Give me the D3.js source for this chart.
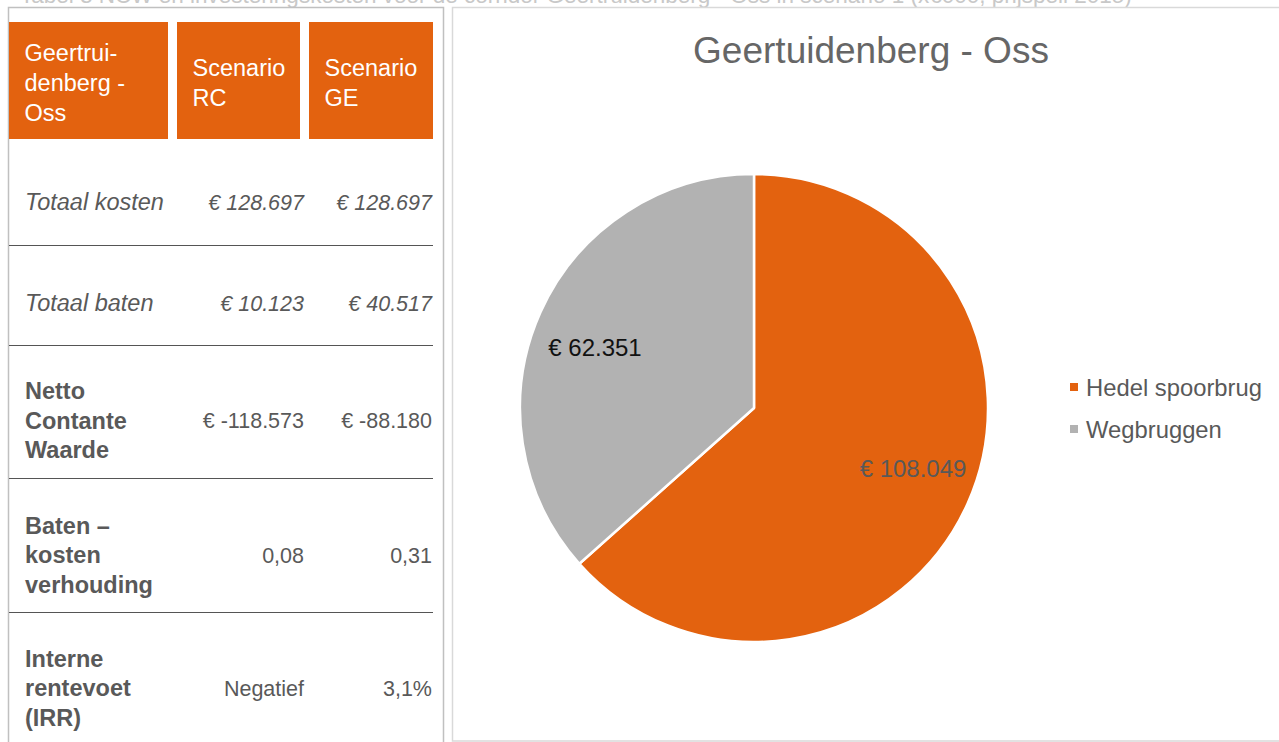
<!DOCTYPE html>
<html><head><meta charset="utf-8">
<script src="https://cdn.jsdelivr.net/npm/d3@7"></script>
<style>
html,body{margin:0;padding:0;background:#fff;}
svg{display:block;font-family:"Liberation Sans",Arial,sans-serif;}
</style></head>
<body>
<svg id="c" width="1279" height="742"></svg>
<script>
// ---- data ----
const caption = "Tabel 3 NCW en investeringskosten voor de corridor Geertruidenberg - Oss in scenario 1 (x€000, prijspeil 2015)";
const headerLabels = [["Geertrui-","denberg -","Oss"],["Scenario","RC"],["Scenario","GE"]];
const rowLabels = [["Totaal kosten"],["Totaal baten"],["Netto","Contante","Waarde"],["Baten –","kosten","verhouding"],["Interne","rentevoet","(IRR)"]];
const rowItalic = [true,true,false,false,false];
const rowKinds = ["euro","euro","euro","ratio","text"];
const scenarioRC = [128697, 10123, -118573, 0.08, "Negatief"];
const scenarioGE = [128697, 40517, -88180, 0.31, "3,1%"];
const chartTitle = "Geertuidenberg - Oss";
const sliceNames = ["Hedel spoorbrug","Wegbruggen"];
const sliceValues = [108049, 62351];
const sliceColors = ["#E3620F","#B2B2B2"];
const sliceLabelColors = ["#595959","#111111"];

// ---- formatting ----
const nl = d3.formatLocale({decimal:",", thousands:".", grouping:[3], currency:["€ ",""], minus:"-"});
const fInt = nl.format(",.0f"), fRatio = nl.format(".2f");
function fmt(v, kind){
  if (kind==="euro") return "€ " + fInt(v);
  if (kind==="ratio") return fRatio(v);
  return v;
}

const svg = d3.select("#c");
const grey = "#595959";

// caption (cut off at top, as in the reference)
svg.append("text").attr("x",20).attr("y",3).attr("font-size",22.5)
  .attr("fill","#c8c8c8").text(caption);

// ---- table panel ----
svg.append("path").attr("d","M8.5,742 V7.5 H443.5 V742").attr("fill","none").attr("stroke","#c0c0c0").attr("stroke-width",1.5);

const colX = [9,177,309], colW = [159,123,124];
const hdrY = 22, hdrH = 117;
const hdr = svg.append("g");
headerLabels.forEach((lines,i)=>{
  hdr.append("rect").attr("x",colX[i]).attr("y",hdrY).attr("width",colW[i]).attr("height",hdrH).attr("fill","#E3620F");
  const lh = 29.8, cy = hdrY + hdrH/2;
  const t = hdr.append("text").attr("font-size",23.5).attr("fill","#fff");
  lines.forEach((l,j)=>{
    t.append("tspan").attr("x",colX[i]+15.5).attr("y",cy + (j-(lines.length-1)/2)*lh + 10.5).text(l);
  });
});

const rowBounds = [139,245,345,478,612,768];
const rowShift = [10,8,9,10,-2];
const valRight = [304,432];
const body = svg.append("g");
rowLabels.forEach((lines,i)=>{
  const cy = (rowBounds[i]+rowBounds[i+1])/2 + rowShift[i];
  const lh = 29.5;
  const t = body.append("text").attr("font-size",23.5).attr("fill",grey)
    .attr("font-style",rowItalic[i]?"italic":"normal").attr("font-weight",rowItalic[i]?"normal":"bold");
  lines.forEach((l,j)=>{
    t.append("tspan").attr("x",25).attr("y",cy + (j-(lines.length-1)/2)*lh + 8).text(l);
  });
  [scenarioRC[i],scenarioGE[i]].forEach((v,k)=>{
    body.append("text").attr("x",valRight[k]).attr("y",cy+7.5).attr("text-anchor","end")
      .attr("font-size",21.5).attr("fill",grey).attr("font-style",rowItalic[i]?"italic":"normal")
      .text(fmt(v,rowKinds[i]));
  });
  if (i<rowLabels.length-1){
    body.append("line").attr("x1",9).attr("x2",433).attr("y1",rowBounds[i+1]+0.5).attr("y2",rowBounds[i+1]+0.5)
      .attr("stroke","#555").attr("stroke-width",1.2);
  }
});

// ---- chart panel ----
svg.append("rect").attr("x",452.5).attr("y",7.5).attr("width",840).attr("height",733.5)
  .attr("fill","#fff").attr("stroke","#d9d9d9").attr("stroke-width",1.5);
svg.append("text").attr("x",871).attr("y",63).attr("text-anchor","middle").attr("font-size",37)
  .attr("fill","#666666").text(chartTitle);

const cx = 754, cy = 408, r = 234;
const pie = d3.pie().sort(null).value(d=>d)(sliceValues);
const arc = d3.arc().innerRadius(0).outerRadius(r);
const g = svg.append("g").attr("transform",`translate(${cx},${cy})`);
g.selectAll("path").data(pie).join("path").attr("d",arc)
  .attr("fill",(d,i)=>sliceColors[i]).attr("stroke","#fff").attr("stroke-width",2.5).attr("stroke-linejoin","round");
g.selectAll("text").data(pie).join("text")
  .attr("transform",d=>{const p=d3.pointRadial((d.startAngle+d.endAngle)/2 - 0.058, r*0.727);return `translate(${p[0]},${p[1]})`;})
  .attr("text-anchor","middle").attr("dy","0.36em").attr("font-size",24)
  .attr("fill",(d,i)=>sliceLabelColors[i]).text(d=>"€ " + fInt(d.value));

// legend
const leg = svg.append("g");
sliceNames.forEach((n,i)=>{
  const y = 387 + i*42;
  leg.append("rect").attr("x",1070).attr("y",y-4).attr("width",8).attr("height",8).attr("fill",sliceColors[i]);
  leg.append("text").attr("x",1086).attr("y",y+8.5).attr("font-size",23.8).attr("fill",grey).text(n);
});
</script>
</body></html>
